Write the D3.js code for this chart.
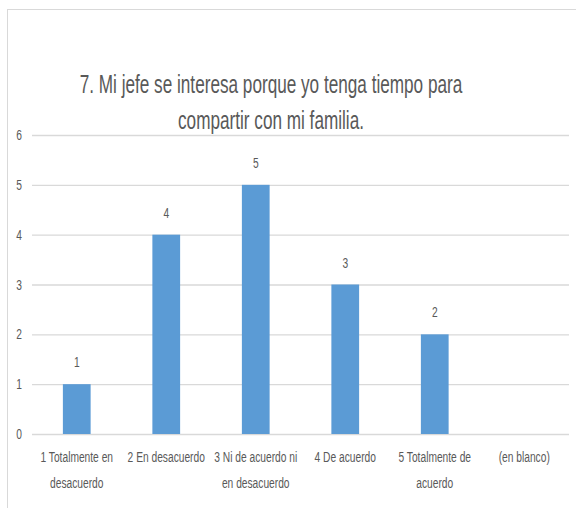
<!DOCTYPE html>
<html>
<head>
<meta charset="utf-8">
<script src="https://cdn.jsdelivr.net/npm/d3@7"></script>
<style>
  body { margin: 0; background: #fff; }
  text { font-family: "Liberation Sans", Arial, sans-serif; fill: #595959; }
</style>
</head>
<body>
<div id="chart"></div>
<script>
// Chart data
const categories = [
    ['1 Totalmente en', 'desacuerdo'],
    ['2 En desacuerdo'],
    ['3 Ni de acuerdo ni', 'en desacuerdo'],
    ['4 De acuerdo'],
    ['5 Totalmente de', 'acuerdo'],
    ['(en blanco)']
];
const values = [1, 4, 5, 3, 2, null];
const yTicks = [0, 1, 2, 3, 4, 5, 6];
const titleLines = ['7. Mi jefe se interesa porque yo tenga tiempo para', 'compartir con mi familia.'];

const width = 576, height = 508;
const margin = { top: 135, right: 7, bottom: 74, left: 32 };

// the original font is a condensed one: squeeze text horizontally
function squeeze(sel, f) {
    sel.each(function () {
        const len = this.getComputedTextLength();
        d3.select(this)
            .attr('textLength', len * f)
            .attr('lengthAdjust', 'spacingAndGlyphs');
    });
}

const svg = d3.select('#chart').append('svg')
    .attr('width', width)
    .attr('height', height);

// chart frame
svg.append('rect')
    .attr('x', 7.5).attr('y', 9.5)
    .attr('width', 600).attr('height', 520)
    .attr('fill', 'none')
    .attr('stroke', '#d9d9d9');

const x = d3.scaleBand()
    .domain(categories.map((d, i) => i))
    .range([margin.left, width - margin.right])
    .paddingInner(0.69)
    .paddingOuter(0.345);

const y = d3.scaleLinear()
    .domain([0, 6])
    .range([height - margin.bottom, margin.top]);

// gridlines
svg.append('g')
    .selectAll('line')
    .data(yTicks)
    .enter().append('line')
    .attr('x1', margin.left)
    .attr('x2', width - margin.right)
    .attr('y1', d => y(d) + 0.5)
    .attr('y2', d => y(d) + 0.5)
    .attr('stroke', '#d9d9d9')
    .attr('stroke-width', 1.3);

// y tick labels
svg.append('g')
    .selectAll('text')
    .data(yTicks)
    .enter().append('text')
    .attr('x', 22)
    .attr('y', d => y(d) + 5)
    .attr('text-anchor', 'end')
    .style('font-size', '14px')
    .text(d => d)
    .call(squeeze, 0.73);

// bars
const barData = values.map((v, i) => ({ i, v })).filter(d => d.v != null);

svg.append('g')
    .selectAll('rect')
    .data(barData)
    .enter().append('rect')
    .attr('x', d => x(d.i))
    .attr('y', d => y(d.v))
    .attr('width', x.bandwidth())
    .attr('height', d => y(0) - y(d.v))
    .attr('fill', '#5b9bd5');

// data labels
svg.append('g')
    .selectAll('text')
    .data(barData)
    .enter().append('text')
    .attr('x', d => x(d.i) + x.bandwidth() / 2)
    .attr('y', d => y(d.v) - 17)
    .attr('text-anchor', 'middle')
    .style('font-size', '14px')
    .text(d => d.v)
    .call(squeeze, 0.73);

// category labels
const catG = svg.append('g')
    .selectAll('text')
    .data(categories)
    .enter().append('text')
    .attr('text-anchor', 'middle')
    .style('font-size', '14px');

catG.selectAll('tspan')
    .data((d, i) => d.map(line => ({ line, i })))
    .enter().append('tspan')
    .attr('x', d => x(d.i) + x.bandwidth() / 2)
    .attr('y', (d, j) => 462 + j * 26)
    .text(d => d.line)
    .call(squeeze, 0.73);

// title
svg.append('g')
    .selectAll('text')
    .data(titleLines)
    .enter().append('text')
    .attr('x', 271)
    .attr('y', (d, i) => 93 + i * 36)
    .attr('text-anchor', 'middle')
    .style('font-size', '26px')
    .text(d => d)
    .call(squeeze, 0.66);
</script>
</body>
</html>
